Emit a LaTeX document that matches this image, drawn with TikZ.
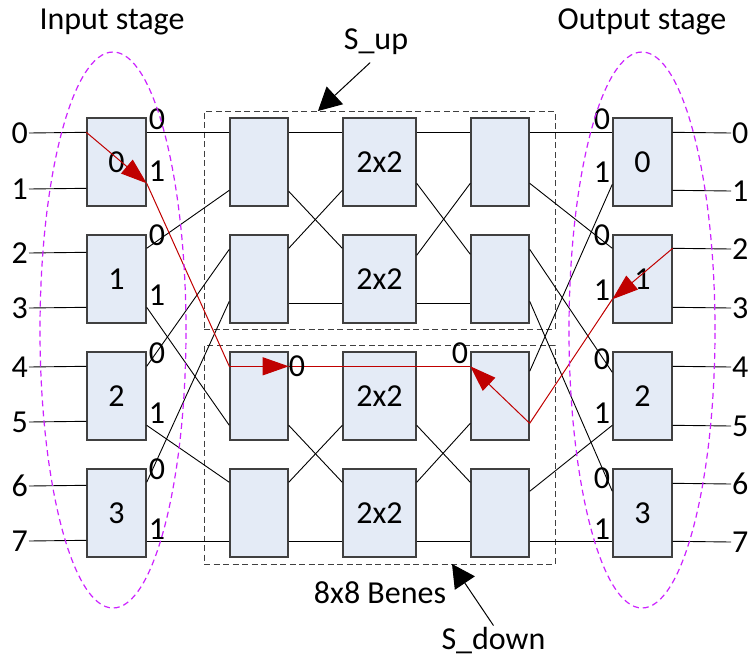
\documentclass[tikz,border=0pt]{standalone}
\usepackage{fontspec}
\setmainfont{Carlito}
\usetikzlibrary{arrows.meta,calc}
\definecolor{boxfill}{HTML}{E4EBF6}
\definecolor{boxdraw}{HTML}{404040}
\definecolor{ellcol}{HTML}{CC22FF}
\definecolor{pathred}{HTML}{C00000}
\newcommand{\pR}[2]{($(#1.north east)+(0,#2)$)}
\newcommand{\pL}[2]{($(#1.north west)+(0,#2)$)}
\begin{document}
\begin{tikzpicture}[x=1pt,y=-1pt,
  font=\fontsize{32}{38}\selectfont,
  sbox/.style={draw=boxdraw, fill=boxfill, line width=1.4pt, inner sep=0pt, minimum height=88pt},
  nw/.style={sbox, minimum width=59pt},
  mw/.style={sbox, minimum width=73pt},
  cw/.style={sbox, minimum width=58pt},
  wire/.style={draw=black, line width=0.9pt},
  rwire/.style={draw=pathred, line width=1pt},
  rarrow/.style={rwire, -{Triangle[length=26pt,width=18pt]}},
  barrow/.style={draw=black, line width=1pt, -{Triangle[length=23pt,width=24pt]}},
  dbox/.style={draw=boxdraw, dash pattern=on 6pt off 3.5pt, line width=1pt, inner sep=0pt, outer sep=0pt},
  ell/.style={draw=ellcol, dash pattern=on 6pt off 4pt, line width=1.2pt},
  plab/.style={inner sep=2pt},
  tlab/.style={inner sep=2pt},
  ]
\useasboundingbox (0,0) rectangle (756,657);

% dashed sub-network frames
\node[dbox, minimum width=351pt, minimum height=218pt] (Sup) at (379.5,220) {};
\node[dbox, minimum width=351pt, minimum height=219pt] (Sdn) at (379.5,454.5) {};

% switch boxes
\foreach \r/\y in {0/162,1/279,2/396,3/513}{
  \node[nw] (I\r) at (116.5,\y) {\r};
  \node[cw] (A\r) at (259,\y) {};
  \node[mw] (B\r) at (379.5,\y) {2x2};
  \node[cw] (C\r) at (500,\y) {};
  \node[nw] (O\r) at (642.5,\y) {\r};
}

% outer labels
\foreach \n/\y in {0/133,1/189,2/253,3/308,4/367,5/422,6/486,7/541}{
  \node[anchor=east, inner sep=1pt] (L\n) at (29,\y) {\n};
}
\foreach \n/\y in {0/133,1/191,2/249,3/308,4/367,5/426,6/484,7/542}{
  \node[anchor=west, inner sep=1pt] (R\n) at (731,\y) {\n};
}

% input wires
\draw[wire] (L0.east) -- \pL{I0}{15};
\draw[wire] (L1.east) -- \pL{I0}{71};
\draw[wire] (L2.east) -- \pL{I1}{18};
\draw[wire] (L3.east) -- \pL{I1}{73};
\draw[wire] (L4.east) -- \pL{I2}{15};
\draw[wire] (L5.east) -- \pL{I2}{70};
\draw[wire] (L6.east) -- \pL{I3}{17};
\draw[wire] (L7.east) -- \pL{I3}{72};

% input stage -> column A
\draw[wire] \pR{I0}{15} -- \pL{A0}{15};
\draw[wire] \pR{I1}{14} -- \pL{A0}{73};
\draw[wire] \pR{I1}{73} -- \pL{A2}{74};
\draw[wire] \pR{I2}{15} -- \pL{A1}{15};
\draw[wire] \pR{I2}{74} -- \pL{A3}{14};
\draw[wire] \pR{I3}{14} -- \pL{A1}{67};
\draw[wire] \pR{I3}{73} -- \pL{A3}{73};

% column A -> column B
\draw[wire] \pR{A0}{15} -- \pL{B0}{15};
\draw[wire] \pR{A0}{74} -- \pL{B1}{14};
\draw[wire] \pR{A1}{14} -- \pL{B0}{73};
\draw[wire] \pR{A1}{69} -- \pL{B1}{69};
\draw[wire] \pR{A2}{74} -- \pL{B3}{14};
\draw[wire] \pR{A3}{14} -- \pL{B2}{74};
\draw[wire] \pR{A3}{73} -- \pL{B3}{73};

% column B -> column C
\draw[wire] \pR{B0}{15} -- \pL{C0}{15};
\draw[wire] \pR{B0}{66} -- \pL{C1}{20};
\draw[wire] \pR{B1}{21} -- \pL{C0}{66};
\draw[wire] \pR{B1}{69} -- \pL{C1}{69};
\draw[wire] \pR{B2}{74} -- \pL{C3}{14};
\draw[wire] \pR{B3}{14} -- \pL{C2}{72};
\draw[wire] \pR{B3}{73} -- \pL{C3}{73};

% column C -> output stage
\draw[wire] \pR{C0}{15} -- \pL{O0}{15};
\draw[wire] \pR{C0}{66} -- \pL{O1}{14};
\draw[wire] \pR{C1}{15} -- \pL{O2}{21};
\draw[wire] \pR{C1}{67} -- \pL{O3}{23};
\draw[wire] \pR{C2}{20} -- \pL{O0}{67};
\draw[wire] \pR{C3}{23} -- \pL{O2}{74};
\draw[wire] \pR{C3}{73} -- \pL{O3}{73};

% output wires
\draw[wire] \pR{O0}{15} -- (R0.west);
\draw[wire] \pR{O0}{73} -- (R1.west);
\draw[wire] \pR{O1}{73} -- (R3.west);
\draw[wire] \pR{O2}{15} -- (R4.west);
\draw[wire] \pR{O2}{74} -- (R5.west);
\draw[wire] \pR{O3}{15} -- (R6.west);
\draw[wire] \pR{O3}{73} -- (R7.west);

% red routing path
\draw[rarrow] \pL{I0}{15} -- \pR{I0}{66};
\draw[rwire] \pR{I0}{66} -- \pL{A2}{15};
\draw[rarrow] \pL{A2}{15} -- \pR{A2}{15};
\draw[rwire] \pR{A2}{15} -- \pL{C2}{15};
\draw[wire] \pR{O1}{14} -- (R2.west);
\draw[rarrow] \pR{O1}{14} -- \pL{O1}{65};
\draw[rwire] \pL{O1}{65} -- \pR{C2}{72};
\draw[rarrow] \pR{C2}{72} -- \pL{C2}{15};

% port labels, input stage
\path \pR{I0}{15} node[anchor=south west, plab] (pi0a) {0};
\path \pR{I0}{66} node[anchor=south west, plab] (pi0b) {1};
\path \pR{I1}{14} node[anchor=south west, plab] (pi1a) {0};
\path \pR{I1}{73} node[anchor=south west, plab] (pi1b) {1};
\path \pR{I2}{15} node[anchor=south west, plab] (pi2a) {0};
\path \pR{I2}{74} node[anchor=south west, plab] (pi2b) {1};
\path \pR{I3}{14} node[anchor=south west, plab] (pi3a) {0};
\path \pR{I3}{73} node[anchor=south west, plab] (pi3b) {1};

% port labels, output stage
\path \pL{O0}{15} node[anchor=south east, plab] (po0a) {0};
\path \pL{O0}{67} node[anchor=south east, plab] (po0b) {1};
\path \pL{O1}{14} node[anchor=south east, plab] (po1a) {0};
\path \pL{O1}{68} node[anchor=south east, plab] (po1b) {1};
\path \pL{O2}{21} node[anchor=south east, plab] (po2a) {0};
\path \pL{O2}{74} node[anchor=south east, plab] (po2b) {1};
\path \pL{O3}{23} node[anchor=south east, plab] (po3a) {0};
\path \pL{O3}{73} node[anchor=south east, plab] (po3b) {1};

% port labels on red path
\path \pR{A2}{15} node[anchor=west, inner sep=0pt] (pa2) {0};
\path \pL{C2}{15} node[anchor=south east, plab] (pc2) {0};

% stage ellipses
\draw[ell] (113,330) ellipse [x radius=73pt, y radius=278pt];
\draw[ell] (642,330) ellipse [x radius=73pt, y radius=278pt];

% titles
\node[tlab] (tin) at (112,22) {Input stage};
\node[tlab] (tout) at (642,22) {Output stage};
\node[tlab] (tsup) at (376,42) {S\_up};
\node[tlab] (tben) at (380,593) {8x8 Benes};
\node[tlab] (tsdn) at (493.5,641) {S\_down};

\draw[barrow, shorten <=8pt] (tsup.south) -- ($(Sup.north west)+(114,0)$);
\draw[barrow] (tsdn.north) -- ($(Sdn.south west)+(248,0)$);
\end{tikzpicture}
\end{document}
